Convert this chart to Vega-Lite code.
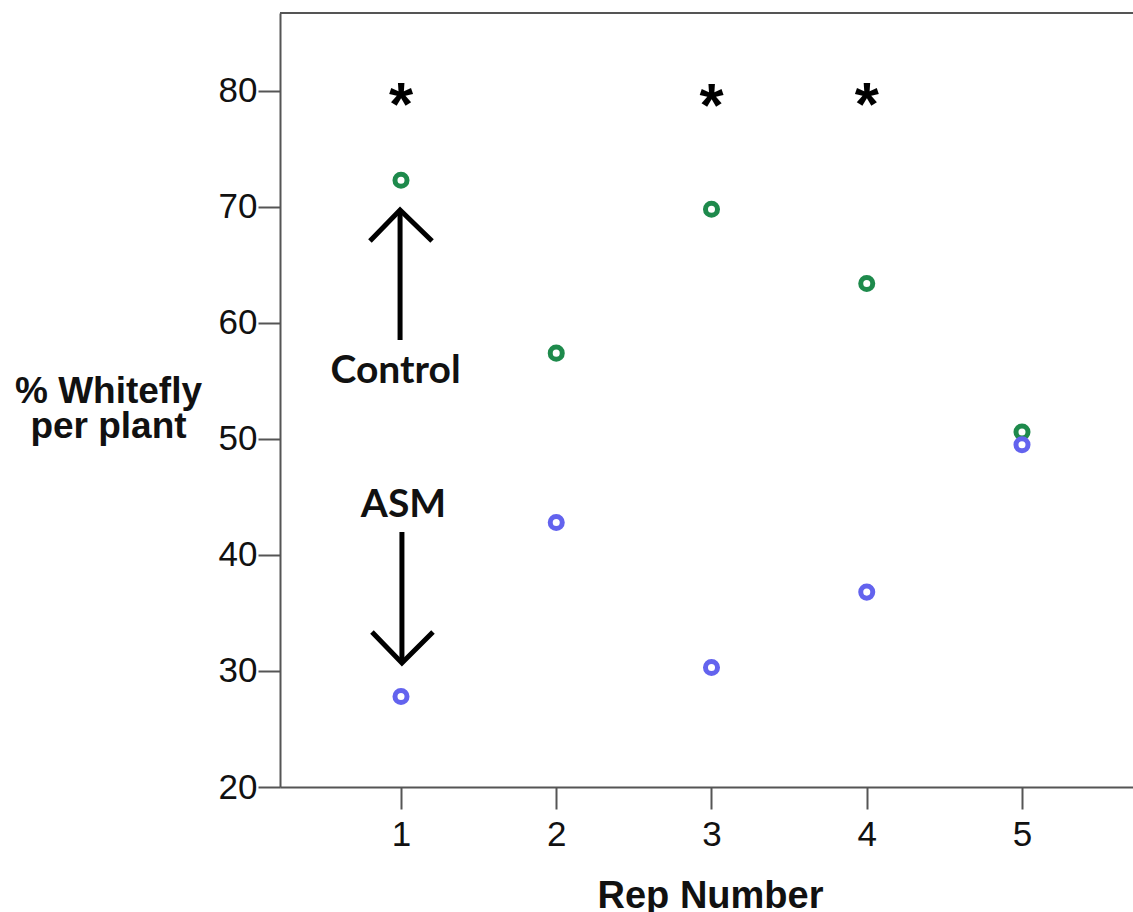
{
  "$schema": "https://vega.github.io/schema/vega-lite/v6.json",
  "width": 853,
  "height": 774,
  "autosize": {"type": "none"},
  "padding": {"left": 280, "top": 13, "right": 0, "bottom": 125},
  "background": "white",
  "config": {"view": {"stroke": null}, "font": "Liberation Sans"},
  "datasets": {
    "obs": [
      {"rep": 1, "group": "Control", "pct": 72.3},
      {"rep": 2, "group": "Control", "pct": 57.4},
      {"rep": 3, "group": "Control", "pct": 69.8},
      {"rep": 4, "group": "Control", "pct": 63.4},
      {"rep": 5, "group": "Control", "pct": 50.6},
      {"rep": 1, "group": "ASM", "pct": 27.8},
      {"rep": 2, "group": "ASM", "pct": 42.8},
      {"rep": 3, "group": "ASM", "pct": 30.3},
      {"rep": 4, "group": "ASM", "pct": 36.8},
      {"rep": 5, "group": "ASM", "pct": 49.5}
    ],
    "stars": [
      {"rep": 1, "pct": 77.1, "label": "*"},
      {"rep": 3, "pct": 76.95, "label": "*"},
      {"rep": 4, "pct": 77.1, "label": "*"}
    ],
    "notes": [
      {"rep": 0.965, "pct": 54.83, "label": "Control"},
      {"rep": 1.016, "pct": 43.28, "label": "ASM"}
    ],
    "frame": [
      {"rep": 0.2206, "rep2": 5.715, "pct": 86.72}
    ],
    "arrows": [
      {"seg": "up-shaft", "ord": 1, "rep": 0.994, "pct": 58.53},
      {"seg": "up-shaft", "ord": 2, "rep": 0.994, "pct": 69.74},
      {"seg": "up-head", "ord": 1, "rep": 0.8, "pct": 67.07},
      {"seg": "up-head", "ord": 2, "rep": 0.994, "pct": 69.74},
      {"seg": "up-head", "ord": 3, "rep": 1.2, "pct": 67.07},
      {"seg": "down-shaft", "ord": 1, "rep": 1.006, "pct": 41.98},
      {"seg": "down-shaft", "ord": 2, "rep": 1.006, "pct": 30.69},
      {"seg": "down-head", "ord": 1, "rep": 0.813, "pct": 33.36},
      {"seg": "down-head", "ord": 2, "rep": 1.006, "pct": 30.69},
      {"seg": "down-head", "ord": 3, "rep": 1.206, "pct": 33.36}
    ]
  },
  "encoding": {
    "x": {
      "field": "rep", "type": "quantitative",
      "scale": {"domain": [0.2206, 5.715], "nice": false, "zero": false},
      "axis": {
        "values": [1, 2, 3, 4, 5], "format": "d", "grid": false,
        "domainColor": "#555555", "domainWidth": 2,
        "tickColor": "#555555", "tickWidth": 2, "tickSize": 22,
        "labelFont": "Liberation Sans", "labelFontSize": 35, "labelColor": "#111111", "labelPadding": 8,
        "title": "Rep Number", "titleFont": "Liberation Sans", "titleFontSize": 38, "titleFontWeight": "bold", "titleColor": "#111111",
        "titleX": 430, "titleY": 90, "titleAlign": "center", "titleBaseline": "top"
      }
    },
    "y": {
      "field": "pct", "type": "quantitative",
      "scale": {"domain": [20, 86.72], "nice": false, "zero": false},
      "axis": {
        "values": [20, 30, 40, 50, 60, 70, 80], "format": "d", "grid": false,
        "domainColor": "#555555", "domainWidth": 2,
        "tickColor": "#555555", "tickWidth": 2, "tickSize": 22,
        "labelFont": "Liberation Sans", "labelFontSize": 35, "labelColor": "#111111", "labelPadding": 1,
        "title": ["% Whitefly", "per plant"], "titleFont": "Liberation Sans", "titleFontSize": 37, "titleFontWeight": "bold", "titleColor": "#111111",
        "titleAngle": 0, "titleX": -172, "titleY": 389, "titleAlign": "center", "titleBaseline": "alphabetic", "titleLineHeight": 35
      }
    }
  },
  "layer": [
    {
      "data": {"name": "frame"},
      "mark": {"type": "rule", "color": "#555555", "strokeWidth": 2},
      "encoding": {
        "x2": {"field": "rep2"}
      }
    },
    {
      "data": {"name": "arrows"},
      "mark": {"type": "line", "color": "#000000", "strokeWidth": 5, "strokeJoin": "miter", "strokeCap": "butt"},
      "encoding": {
        "detail": {"field": "seg"},
        "order": {"field": "ord", "type": "quantitative"}
      }
    },
    {
      "data": {"name": "notes"},
      "mark": {"type": "text", "font": "Lato", "fontWeight": "bold", "fontSize": 39, "color": "#111111", "align": "center", "baseline": "alphabetic"},
      "encoding": {
        "text": {"field": "label"}
      }
    },
    {
      "data": {"name": "stars"},
      "mark": {"type": "text", "font": "Liberation Sans", "fontWeight": "bold", "fontSize": 62, "color": "#000000", "align": "center", "baseline": "alphabetic"},
      "encoding": {
        "text": {"field": "label"}
      }
    },
    {
      "data": {"name": "obs"},
      "mark": {"type": "point", "shape": "circle", "filled": false, "strokeWidth": 5, "size": 145, "opacity": 1},
      "encoding": {
        "color": {
          "field": "group", "type": "nominal",
          "scale": {"domain": ["Control", "ASM"], "range": ["#1e8a4c", "#6363ee"]},
          "legend": null
        }
      }
    }
  ]
}
